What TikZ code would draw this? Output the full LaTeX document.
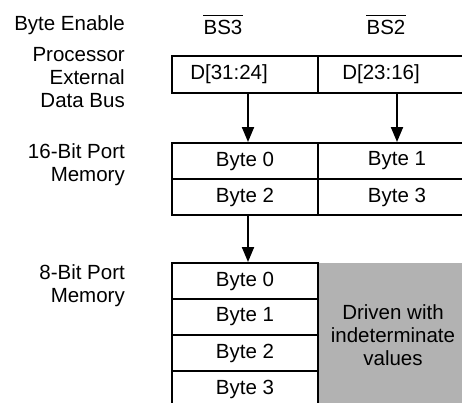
\documentclass[tikz,border=0pt]{standalone}
\usepackage{fontspec}
\setmainfont{Liberation Sans}
\usetikzlibrary{arrows.meta}
\begin{document}
\begin{tikzpicture}[x=1pt,y=-1pt,
  fnt/.style={font=\fontsize{20.5}{23}\selectfont},
  lbl/.style={fnt,anchor=east,align=right,inner sep=0pt},
  txt/.style={fnt,inner sep=0pt,align=center},
  cell/.style={fnt,draw,line width=2pt,inner sep=0pt,anchor=north west,minimum height=36pt},
  lcell/.style={cell,minimum width=146pt},
  rcell/.style={cell,minimum width=158pt},
  arr/.style={line width=2pt,-{Triangle[length=15pt,width=12pt]}},
  ovl/.style={line width=1.6pt}
]
\useasboundingbox (0,0) rectangle (462,402);
\clip (0,0) rectangle (462,402);
% labels
\node[lbl] (lbe) at (125,25) {Byte Enable};
\node[lbl] (lpb) at (125,78) {Processor\\External\\Data Bus};
\node[lbl] (l16) at (125,165) {16-Bit Port\\Memory};
\node[lbl] (l8) at (125,286) {8-Bit Port\\Memory};
% byte enables
\node[txt] (bs3) at (223,27) {BS3};
\node[txt] (bs2) at (386,27) {BS2};
\draw[ovl] ([yshift=4pt]bs3.north west) -- ([yshift=4pt]bs3.north east);
\draw[ovl] ([yshift=4pt]bs2.north west) -- ([yshift=4pt]bs2.north east);
% data bus
\node[lcell,minimum height=37pt] (d1) at (171,55) {};
\node[rcell,minimum height=37pt] (d2) at (317,55) {};
\node[txt] (t1) at (229,74) {D[31:24]};
\node[txt] (t2) at (381,74) {D[23:16]};
% 16-bit memory
\node[lcell] (m0) at (171,142) {Byte 0};
\node[rcell] (m1) at (317,142) {Byte 1};
\node[lcell] (m2) at (171,178) {Byte 2};
\node[rcell] (m3) at (317,178) {Byte 3};
% 8-bit memory
\node[rcell,draw=none,fill=black!30,minimum height=150pt] (grey) at (317,262) {};
\node[txt] (drv) at (393,335) {Driven with\\indeterminate\\values};
\node[lcell] (e0) at (171,262) {Byte 0};
\node[lcell] (e1) at (171,298) {Byte 1};
\node[lcell] (e2) at (171,334) {Byte 2};
\node[lcell] (e3) at (171,370) {Byte 3};
% arrows
\draw[arr] ([xshift=3pt]d1.south) -- ([xshift=3pt]m0.north);
\draw[arr] (d2.south) -- (m1.north);
\draw[arr] ([xshift=3pt]m2.south) -- ([xshift=3pt]e0.north);
\end{tikzpicture}
\end{document}
